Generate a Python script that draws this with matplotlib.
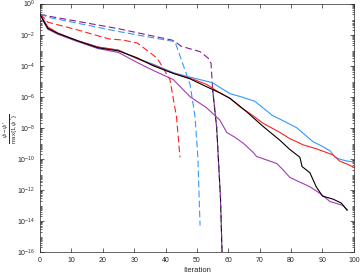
import matplotlib.pyplot as plt
import matplotlib.ticker as mticker
import numpy as np

plt.rcParams['font.family'] = ['Liberation Sans', 'DejaVu Sans']
plt.rcParams['mathtext.fontset'] = 'custom'
plt.rcParams['mathtext.rm'] = 'Liberation Sans'
plt.rcParams['mathtext.it'] = 'Liberation Sans:italic'

# log10 of the relative error
x_blue = [0, 1, 2.5, 5.7, 12, 18.5, 25, 31, 36, 42.5, 47, 51, 55, 57.3, 60.5, 64, 68.5, 74, 78, 81.8, 87, 90, 92.5, 94, 96, 98, 100]
v_blue = [-0.68, -1.06, -1.6, -1.92, -2.4, -2.8, -3.0, -3.55, -3.9, -4.45, -4.7, -4.9, -5.1, -5.4, -5.8, -6.0, -6.3, -7.2, -7.6, -8.0, -8.9, -9.2, -9.5, -9.9, -10.05, -10.15, -10.2]

x_red = [0, 1, 2.5, 5.7, 12, 18.5, 25, 31, 36, 42.5, 47.8, 53, 57.3, 60.5, 63.7, 67, 71, 76.4, 79.6, 81.8, 83.8, 88, 90, 93.4, 95.5, 98, 100]
v_red = [-0.68, -1.0, -1.5, -1.9, -2.4, -2.8, -3.0, -3.55, -3.95, -4.5, -4.8, -5.2, -5.75, -6.1, -6.65, -7.1, -7.7, -8.3, -8.7, -8.9, -9.1, -9.35, -9.5, -9.75, -10.15, -10.35, -10.55]

x_black = [0, 1, 2.5, 5.7, 12, 18.5, 25, 31, 36, 42.5, 47.8, 53, 57.3, 60.5, 63, 66, 71, 76.4, 79.6, 82.8, 83.5, 86, 88, 90, 93.4, 96, 97.8]
v_black = [-0.68, -1.06, -1.6, -1.92, -2.4, -2.85, -3.05, -3.5, -4.0, -4.5, -4.85, -5.35, -5.75, -6.1, -6.5, -7.0, -7.9, -8.8, -9.4, -9.9, -10.5, -10.9, -11.8, -12.4, -12.6, -12.85, -13.3]

x_purple = [0, 1, 2.5, 5.7, 12, 18.5, 25, 31, 36, 42.5, 47.8, 53, 57.3, 59.5, 62, 64.8, 68, 69, 75.4, 77.4, 79.6, 86, 89, 92.4, 96.5, 98]
v_purple = [-0.68, -1.1, -1.65, -1.98, -2.45, -2.9, -3.15, -3.8, -4.3, -4.9, -6.0, -6.7, -7.5, -8.3, -8.6, -9.0, -9.6, -9.85, -10.3, -10.7, -11.2, -11.8, -12.2, -12.75, -13.0, -13.3]

# dashed variants
x_red_d = [0, 0.5, 2.5, 4.8, 12, 22, 26.4, 31, 34, 37.2, 38.2, 41.4, 43.5, 44.6]
v_red_d = [-0.68, -0.75, -1.2, -1.32, -1.7, -2.28, -2.35, -2.54, -3.0, -3.5, -3.8, -4.9, -7.3, -9.9]

x_blue_d = [0, 3, 25, 40, 43, 45, 47.8, 49.4, 50.3, 51]
v_blue_d = [-0.68, -0.9, -1.8, -2.35, -2.45, -3.6, -5.2, -7.3, -9.9, -14.3]

x_purple_d = [0, 3, 25, 42, 43, 45, 51, 53.5, 54.5, 55, 56.3, 57.5, 58]
v_purple_d = [-0.68, -0.82, -1.62, -2.35, -2.45, -2.75, -3.1, -3.5, -3.85, -5.5, -8.0, -12.5, -16]

# black dashed run hides under the purple one, only its tail shows
x_black_d = [55, 56.3, 57.5, 58]
v_black_d = [-5.5, -8.0, -12.5, -16]

c_blue = '#3399ff'
c_red = '#ff2020'
c_purple = '#a03cb4'
c_purple_d = '#7e1f98'
c_text = '#262626'

fig = plt.figure(figsize=(3.6, 2.73), dpi=100)
ax = fig.add_axes([0.111, 0.077, 0.872, 0.91])

lw = 0.8
dash = (0, (6, 3))
ax.plot(x_black_d, 10.0 ** np.array(v_black_d), color='black', lw=lw, linestyle=(3, (6, 3)))
ax.plot(x_purple_d, 10.0 ** np.array(v_purple_d), color=c_purple_d, lw=lw, linestyle=dash)
ax.plot(x_blue_d, 10.0 ** np.array(v_blue_d), color=c_blue, lw=lw, linestyle=dash)
ax.plot(x_red_d, 10.0 ** np.array(v_red_d), color=c_red, lw=lw, linestyle=dash)
ax.plot(x_blue, 10.0 ** np.array(v_blue), color=c_blue, lw=lw)
ax.plot(x_red, 10.0 ** np.array(v_red), color=c_red, lw=lw)
ax.plot(x_purple, 10.0 ** np.array(v_purple), color=c_purple, lw=lw)
ax.plot(x_black, 10.0 ** np.array(v_black), color='black', lw=lw)

ax.set_yscale('log')
ax.set_xlim(0, 100)
ax.set_ylim(1e-16, 1e0)
ax.set_xticks(np.arange(0, 101, 10))
ax.set_yticks([10.0 ** k for k in range(-16, 1, 2)])
ax.set_yticklabels([r'$10^{%d}$' % k for k in range(-16, 1, 2)])
ax.yaxis.set_minor_locator(mticker.LogLocator(base=10, subs=np.arange(2, 10), numticks=40))
ax.yaxis.set_minor_formatter(mticker.NullFormatter())

ax.tick_params(which='both', direction='in', top=True, right=True, labelsize=5, colors=c_text, width=0.5)
ax.tick_params(which='major', length=3)
ax.tick_params(which='minor', length=1.5)
for s in ax.spines.values():
    s.set_linewidth(0.5)
    s.set_color(c_text)

ax.set_xlabel('Iteration', fontsize=5.5, color=c_text, labelpad=2)
fig.text(0.03, 0.53, r'$\frac{\psi-\psi^*}{\max\{1,\psi^*\}}$', fontsize=6, color=c_text,
         rotation=90, ha='center', va='center')

fig.savefig('out.png', dpi=100)
